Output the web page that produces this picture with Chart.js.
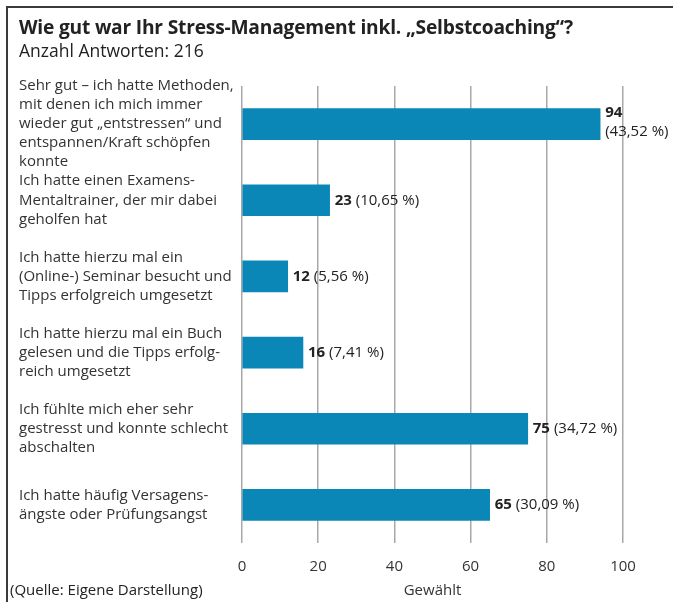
<!DOCTYPE html>
<html>
<head>
<meta charset="utf-8">
<script src="https://cdn.jsdelivr.net/npm/chart.js@4"></script>
<style>
  html, body { margin: 0; padding: 0; background: #fff; }
  body { width: 673px; height: 602px; position: relative; overflow: hidden; font-family: "Open Sans", sans-serif; color: #222; }
  #frame { position: absolute; left: 6px; top: 6px; width: 700px; height: 640px; border-top: 2px solid #3a3a3a; border-left: 2px solid #3a3a3a; }
  #title { position: absolute; left: 19px; top: 13px; font-size: 19.2px; font-weight: 700; letter-spacing: -0.2px; }
  #subtitle { position: absolute; left: 19px; top: 38px; font-size: 17.5px; }
  #source { position: absolute; left: 10px; top: 579px; font-size: 15px; }
  #wrap { position: absolute; left: 0; top: 0; width: 673px; height: 602px; }
</style>
</head>
<body>
<div id="frame"></div>
<div id="wrap"><canvas id="chart"></canvas></div>
<div id="title">Wie gut war Ihr Stress-Management inkl. „Selbstcoaching“?</div>
<div id="subtitle">Anzahl Antworten: 216</div>
<div id="source">(Quelle: Eigene Darstellung)</div>
<script>
const categories = [
    ['Sehr gut – ich hatte Methoden,', 'mit denen ich mich immer', 'wieder gut „entstressen“ und', 'entspannen/Kraft schöpfen', 'konnte'],
    ['Ich hatte einen Examens-', 'Mentaltrainer, der mir dabei', 'geholfen hat'],
    ['Ich hatte hierzu mal ein', '(Online-) Seminar besucht und', 'Tipps erfolgreich umgesetzt'],
    ['Ich hatte hierzu mal ein Buch', 'gelesen und die Tipps erfolg-', 'reich umgesetzt'],
    ['Ich fühlte mich eher sehr', 'gestresst und konnte schlecht', 'abschalten'],
    ['Ich hatte häufig Versagens-', 'ängste oder Prüfungsangst']
];
const counts = [94, 23, 12, 16, 75, 65];
const percents = ['43,52 %', '10,65 %', '5,56 %', '7,41 %', '34,72 %', '30,09 %'];
const xTicks = [0, 20, 40, 60, 80, 100];

const FONT = '"Open Sans", sans-serif';
const barColor = '#0a87b7';

// count in bold, percentage after it (wrapped below when it doesn't fit)
const valueLabels = {
    id: 'valueLabels',
    afterDatasetsDraw(chart) {
        const ctx = chart.ctx;
        const meta = chart.getDatasetMeta(0);
        ctx.save();
        ctx.textBaseline = 'middle';
        ctx.fillStyle = '#222';
        meta.data.forEach((bar, i) => {
            const x = bar.x + 5;
            const bold = String(counts[i]);
            const rest = '(' + percents[i] + ')';
            ctx.font = 'bold 15px ' + FONT;
            const wb = ctx.measureText(bold).width;
            ctx.font = '15px ' + FONT;
            const wr = ctx.measureText(rest).width;
            if (x + wb + 4 + wr > chart.width - 4) {
                ctx.font = 'bold 15px ' + FONT;
                ctx.fillText(bold, x, bar.y - 11);
                ctx.font = '15px ' + FONT;
                ctx.fillText(rest, x, bar.y + 8);
            } else {
                ctx.font = 'bold 15px ' + FONT;
                ctx.fillText(bold, x, bar.y);
                ctx.font = '15px ' + FONT;
                ctx.fillText(rest, x + wb + 4, bar.y);
            }
        });
        ctx.restore();
    }
};

new Chart(document.getElementById('chart'), {
    type: 'bar',
    data: {
        labels: categories,
        datasets: [{
            data: counts,
            backgroundColor: barColor,
            barThickness: 31
        }]
    },
    options: {
        indexAxis: 'y',
        responsive: true,
        maintainAspectRatio: false,
        animation: false,
        layout: { padding: { left: 19, right: 50, top: 86, bottom: 2 } },
        plugins: {
            legend: { display: false },
            tooltip: { enabled: false }
        },
        scales: {
            x: {
                min: 0,
                max: 100,
                afterBuildTicks: (scale) => { scale.ticks = xTicks.map(v => ({ value: v })); },
                afterFit: (scale) => { scale.height = 57; },
                grid: { color: '#a8a8a8', lineWidth: 1.5, drawTicks: false },
                border: { display: false },
                ticks: { color: '#333', padding: 15, font: { family: FONT, size: 15 } },
                title: {
                    display: true,
                    text: 'Gewählt',
                    color: '#333',
                    padding: { top: 6, bottom: 0 },
                    font: { family: FONT, size: 15 }
                }
            },
            y: {
                grid: { display: false, drawTicks: false },
                border: { display: false },
                afterFit: (scale) => {
                    scale.width = 223;
                    scale.paddingTop = 0;
                    scale.paddingBottom = 0;
                },
                ticks: {
                    autoSkip: false,
                    crossAlign: 'far',
                    color: '#333',
                    font: { family: FONT, size: 15, lineHeight: 1.27 }
                }
            }
        }
    },
    plugins: [valueLabels]
});
</script>
</body>
</html>
